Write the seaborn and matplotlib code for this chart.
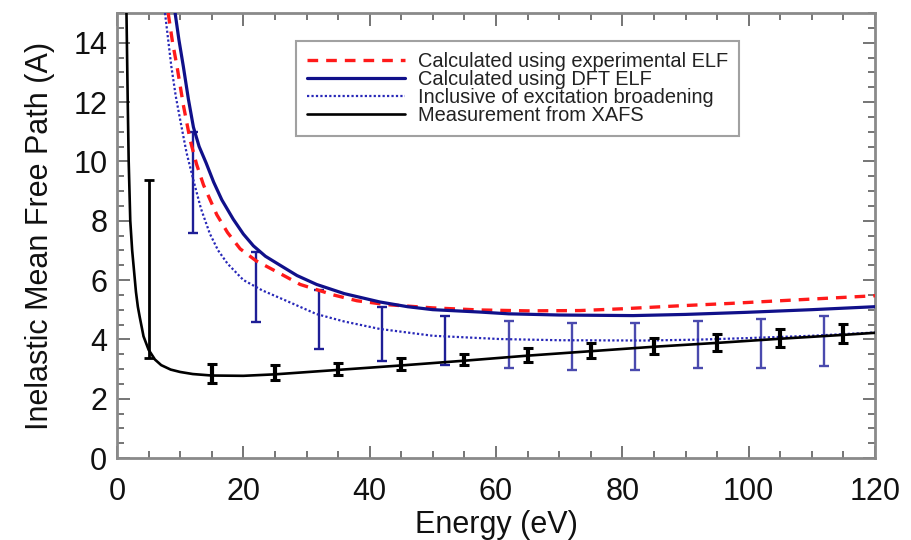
import numpy as np
import pandas as pd
import matplotlib
matplotlib.use("Agg")
import matplotlib.pyplot as plt
from matplotlib.ticker import MultipleLocator
import seaborn as sns

# --- data -------------------------------------------------------------
# Calculated IMFP, experimental ELF
exp_x = [8.1, 8.8, 9.5, 10.5, 11.6, 12.6, 13.7, 15.8, 17.5, 19.5, 22, 25.8, 29, 34.2, 38, 42.7,
         50, 57.4, 65, 73.3, 80, 89, 97, 104.9, 112, 120]
exp_y = [15.0, 14.0, 13.2, 11.9, 10.7, 9.9, 9.2, 8.2, 7.6, 7.05, 6.65, 6.22, 5.85, 5.5, 5.3, 5.17,
         5.06, 4.99, 4.96, 4.97, 5.03, 5.13, 5.21, 5.30, 5.38, 5.47]

# Calculated IMFP, DFT ELF
dft_x = [9.2, 9.8, 10.5, 11.3, 12.1, 13.0, 14.1, 15.3, 16.6, 18.4, 20, 21.6, 23.5, 25.8, 28.5,
         31.6, 36, 41.6, 46, 50, 57.4, 62, 70, 81.7, 90, 99.6, 110, 120]
dft_y = [15.0, 14.1, 13.2, 12.1, 11.15, 10.5, 9.95, 9.3, 8.7, 8.05, 7.55, 7.15, 6.8, 6.5, 6.15,
         5.85, 5.54, 5.26, 5.1, 5.0, 4.92, 4.86, 4.82, 4.8, 4.84, 4.91, 5.0, 5.1]

# DFT ELF including excitation broadening
brd_x = [7.6, 8.1, 8.6, 9.3, 10, 11, 12.1, 13.3, 14.7, 16, 17.5, 20, 23, 26.8, 31.6, 36, 41.6,
         50, 60.6, 70, 83.8, 92, 99.6, 110, 120]
brd_y = [15.0, 14.1, 13.2, 12.2, 11.4, 10.3, 9.36, 8.4, 7.56, 7.0, 6.55, 6.0, 5.65, 5.3, 4.85,
         4.6, 4.35, 4.12, 4.01, 3.97, 3.96, 3.99, 4.04, 4.12, 4.23]

# XAFS measurement (fitted curve)
xafs_x = [1.5, 1.7, 1.85, 2.1, 2.4, 2.7, 3.0, 3.3, 3.6, 4.2, 5.0, 6.0, 7.0, 8.5, 10, 12, 15,
          20, 25, 35, 45, 55, 65, 75, 85, 95, 105, 115, 120]
xafs_y = [15.0, 12.0, 10.0, 8.0, 7.0, 6.3, 5.6, 5.1, 4.75, 4.1, 3.65, 3.32, 3.13, 2.98, 2.9,
          2.83, 2.78, 2.77, 2.82, 2.97, 3.12, 3.28, 3.45, 3.6, 3.75, 3.88, 4.02, 4.15, 4.22]

# uncertainty of the broadened calculation
brd_err_x = [12, 22, 32, 42, 52, 62, 72, 82, 92, 102, 112]
brd_err_c = [9.3, 5.77, 4.67, 4.19, 3.97, 3.82, 3.76, 3.76, 3.82, 3.87, 3.94]
brd_err_d = [1.7, 1.17, 1.0, 0.91, 0.83, 0.79, 0.79, 0.79, 0.79, 0.82, 0.83]

# XAFS measured points
xafs_err_x = [5, 15, 25, 35, 45, 55, 65, 75, 85, 95, 105, 115]
xafs_err_c = [6.37, 2.86, 2.87, 3.01, 3.16, 3.32, 3.46, 3.63, 3.77, 3.90, 4.05, 4.19]
xafs_err_d = [3.0, 0.32, 0.25, 0.2, 0.2, 0.2, 0.24, 0.26, 0.27, 0.29, 0.3, 0.33]

labels = [
    "Calculated using experimental ELF",
    "Calculated using DFT ELF",
    "Inclusive of excitation broadening",
    "Measurement from XAFS",
]

# --- style ------------------------------------------------------------
sns.set_theme(style="ticks")
plt.rcParams["font.family"] = ["Liberation Sans", "DejaVu Sans"]

RED = "#ff1a1a"
NAVY = "#10108a"
BLUE = "#2828b8"
FRAME = "#8a8a8a"

fig = plt.figure(figsize=(9.11, 5.40), dpi=100)
ax = fig.add_axes([117 / 911, 1 - 458 / 540, 758 / 911, 445 / 540])

curves = pd.concat([
    pd.DataFrame({"E": exp_x, "L": exp_y, "s": labels[0]}),
    pd.DataFrame({"E": dft_x, "L": dft_y, "s": labels[1]}),
    pd.DataFrame({"E": brd_x, "L": brd_y, "s": labels[2]}),
    pd.DataFrame({"E": xafs_x, "L": xafs_y, "s": labels[3]}),
])

styles = {
    labels[0]: dict(color=RED, lw=2.4, ls=(0, (3.2, 2.4))),
    labels[1]: dict(color=NAVY, lw=2.3, ls="-"),
    labels[2]: dict(color=BLUE, lw=1.6, ls=(0, (1, 1))),
    labels[3]: dict(color="black", lw=1.9, ls="-"),
}

for lab in labels:
    sub = curves[curves["s"] == lab]
    st = styles[lab]
    sns.lineplot(data=sub, x="E", y="L", ax=ax, color=st["color"],
                 linewidth=st["lw"], linestyle=st["ls"], label=lab,
                 estimator=None, sort=False, zorder=3)

# broadening uncertainty: darker on the steep part, lighter on the plateau
ax.errorbar(brd_err_x[:5], brd_err_c[:5], yerr=brd_err_d[:5], fmt="none",
            ecolor="#1e1e96", elinewidth=1.7, capsize=3.6, capthick=1.7, zorder=2)
ax.errorbar(brd_err_x[5:], brd_err_c[5:], yerr=brd_err_d[5:], fmt="none",
            ecolor="#4a4aae", elinewidth=1.7, capsize=3.6, capthick=1.7, zorder=2)
ax.errorbar(xafs_err_x[:1], xafs_err_c[:1], yerr=xafs_err_d[:1], fmt="none",
            ecolor="black", elinewidth=2.0, capsize=3.6, capthick=2.0, zorder=4)
ax.errorbar(xafs_err_x[1:], xafs_err_c[1:], yerr=xafs_err_d[1:], fmt="none",
            ecolor="black", elinewidth=3.0, capsize=3.6, capthick=2.2, zorder=4)

# --- axes -------------------------------------------------------------
ax.set_xlim(0, 120)
ax.set_ylim(0, 15)
ax.xaxis.set_major_locator(MultipleLocator(20))
ax.xaxis.set_minor_locator(MultipleLocator(5))
ax.yaxis.set_major_locator(MultipleLocator(2))
ax.yaxis.set_minor_locator(MultipleLocator(0.5))
ax.set_yticks(np.arange(0, 15, 2))

for sp in ax.spines.values():
    sp.set_visible(True)
    sp.set_color(FRAME)
    sp.set_linewidth(2.0)

ax.tick_params(which="both", direction="in", top=True, right=True,
               color="#6a6a6a", width=1.3)
ax.tick_params(which="major", length=9)
ax.tick_params(which="minor", length=5)
ax.tick_params(axis="x", which="major", labelsize=22, pad=14, labelcolor="#111")
ax.tick_params(axis="y", which="major", labelsize=22, pad=7, labelcolor="#111")

ax.set_xlabel("Energy (eV)", fontsize=22, color="#111", labelpad=2)
ax.set_ylabel("Inelastic Mean Free Path (A)", fontsize=22, color="#111", labelpad=13)

leg = ax.legend(loc="upper left", bbox_to_anchor=(0.236, 0.937),
                fontsize=14.4, frameon=True, fancybox=False,
                handlelength=4.9, handletextpad=0.65, labelspacing=-0.05,
                borderpad=0.55, borderaxespad=0)
leg.get_frame().set_edgecolor("#8a8a8a")
leg.get_frame().set_linewidth(1.5)
for t in leg.get_texts():
    t.set_color("#222")

fig.savefig("out.png", dpi=100)
